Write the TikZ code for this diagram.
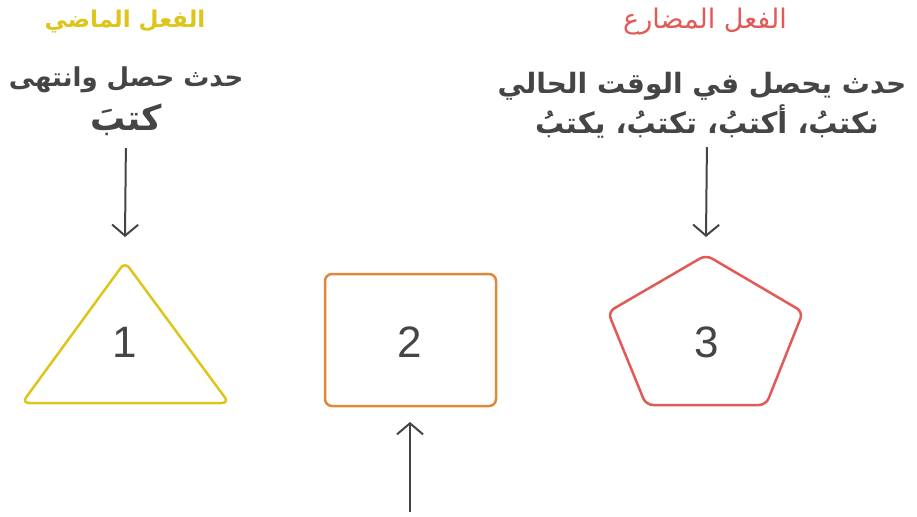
\documentclass[tikz,border=0pt]{standalone}
\usepackage{fontspec}
\setmainfont{Liberation Sans}
\newfontfamily\arabicfont[Script=Arabic]{DejaVu Sans}
\TeXXeTstate=1
\usetikzlibrary{arrows.meta}
\definecolor{pastyellow}{HTML}{DEC51C}
\definecolor{nowred}{HTML}{E25A55}
\definecolor{boxorange}{HTML}{E0883A}
\definecolor{textgray}{HTML}{454545}
\tikzset{
  title/.style={inner sep=0pt},
  desc/.style={font=\arabicfont\bfseries\fontsize{26}{30}\selectfont, text=textgray, inner sep=0pt},
  verb/.style={font=\arabicfont\bfseries\fontsize{35}{39}\selectfont, text=textgray, inner sep=0pt},
  number/.style={font=\fontsize{44}{48}\selectfont, text=textgray, inner sep=0pt},
  shapeline/.style={line width=2.5pt, line join=round, rounded corners=7pt},
  arrowline/.style={draw=textgray, line width=2pt, -{Straight Barb[length=11pt,width=26pt]}},
}
\begin{document}
\begin{tikzpicture}[x=1pt,y=-1pt]
    \useasboundingbox[fill=white] (0,0) rectangle (917,516);

    % Past tense column
    \node[title, text=pastyellow, font=\arabicfont\bfseries\fontsize{23}{27}\selectfont] (pasttitle) at (125,22) {\beginR الفعل الماضي\endR};
    \node[desc] (pastdesc) at (126,80) {\beginR حدث حصل وانتهى\endR};
    \node[verb] (pastverb) at (126,120) {\beginR كتبَ\endR};
    \draw[shapeline, draw=pastyellow] (125,262) -- (229,403) -- (22,403) -- cycle;
    \node[number] (one) at (125,342) {1};
    \coordinate (tritop) at (125,237);

    % Middle box
    \draw[shapeline, draw=boxorange] (325,274) rectangle (496,406);
    \node[number] (two) at (410,342) {2};
    \coordinate (boxbottom) at (410,422);
    \coordinate (boxstart) at (410,512);

    % Present tense column
    \node[title, text=nowred, font=\arabicfont\fontsize{27}{31}\selectfont] (nowtitle) at (705,22) {\beginR الفعل المضارع\endR};
    \node[desc, font=\arabicfont\bfseries\fontsize{28}{32}\selectfont] (nowdesc) at (702,86) {\beginR حدث يحصل في الوقت الحالي\endR};
    \node[desc, font=\arabicfont\bfseries\fontsize{29}{33}\selectfont] (nowverbs) at (707,122) {\beginR نكتبُ، أكتبُ، تكتبُ، يكتبُ\endR};
    \draw[shapeline, draw=nowred] (706,255) -- (803,312) -- (766,405) -- (646,405) -- (608,312) -- cycle;
    \node[number] (three) at (707,342) {3};
    \coordinate (pentop) at (706,237);

    % Arrows
    \draw[arrowline, shorten <=12pt] (pastverb.south) -- (tritop);
    \draw[arrowline, shorten <=8pt] (nowverbs.south) -- (pentop);
    \draw[arrowline] (boxstart) -- (boxbottom);

\end{tikzpicture}
\end{document}
